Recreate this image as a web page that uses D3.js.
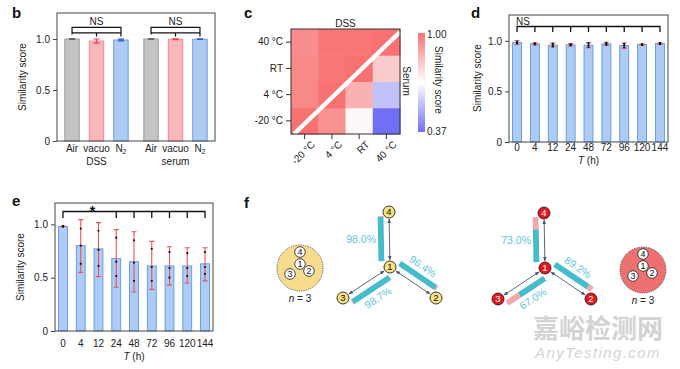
<!DOCTYPE html>
<html><head><meta charset="utf-8">
<script src="https://cdn.jsdelivr.net/npm/d3@7"></script>
<style>body{margin:0;background:#fff}svg{display:block;font-family:"Liberation Sans",Arial,Helvetica,sans-serif}</style>
</head><body><svg id="chart" width="680" height="369"></svg>
<script>
// ---------------- DATA ----------------
const bCategories = ["Air", "vacuo", "N2"];
const bGroups = ["DSS", "serum"];
const bDSSValues = [1.0, 0.98, 0.99];
const bDSSErrors = [0.003, 0.02, 0.008];
const bSerumValues = [1.0, 0.998, 0.998];
const bSerumErrors = [0.003, 0.004, 0.003];
const yTicks = [0, 0.5, 1.0];

const cTemps = ["-20 °C", "4 °C", "RT", "40 °C"];
const cDSS = [
  [1.00, 0.95, 0.95, 0.94],
  [0.95, 1.00, 0.99, 0.99],
  [0.95, 0.99, 1.00, 0.99],
  [0.94, 0.99, 0.99, 1.00]
];
const cSerum = [
  [1.00, 0.93, 0.70, 0.37],
  [0.93, 1.00, 0.86, 0.55],
  [0.70, 0.86, 1.00, 0.80],
  [0.37, 0.55, 0.80, 1.00]
];
const cColorDomain = [0.37, 1.00];

const timeLabels = ["0", "4", "12", "24", "48", "72", "96", "120", "144"];
const dValues = [0.983, 0.970, 0.957, 0.960, 0.957, 0.970, 0.953, 0.963, 0.973];
const dErrors = [0.02, 0.01, 0.02, 0.012, 0.025, 0.015, 0.025, 0.006, 0.008];
const dPoints = [[0.99, 0.98, 0.975], [0.975, 0.97, 0.965], [0.97, 0.955, 0.945], [0.965, 0.96, 0.955],
  [0.975, 0.955, 0.94], [0.98, 0.97, 0.96], [0.97, 0.955, 0.935], [0.965, 0.963, 0.96], [0.978, 0.973, 0.968]];

const eValues = [0.98, 0.80, 0.77, 0.68, 0.65, 0.61, 0.61, 0.61, 0.63];
const eErrLow = [0.977, 0.55, 0.51, 0.41, 0.365, 0.39, 0.43, 0.45, 0.47];
const eErrHigh = [0.983, 1.044, 1.016, 0.95, 0.93, 0.84, 0.79, 0.78, 0.78];
const ePoints = [[0.98, 0.98, 0.98], [0.96, 0.80, 0.63], [0.94, 0.76, 0.61], [0.875, 0.65, 0.515],
  [0.85, 0.64, 0.47], [0.77, 0.60, 0.47], [0.74, 0.59, 0.50], [0.73, 0.59, 0.515], [0.74, 0.60, 0.535]];
const eBracketTimes = ["0", "24", "48", "72", "96", "120", "144"];

const fEdgeTargets = ["4", "2", "3"];
const fLeftPercents = [98.0, 96.4, 98.7];
const fRightPercents = [73.0, 89.2, 67.0];

// ---------------- DRAW ----------------
const svg = d3.select("#chart");
const FS = 10;

function panelLabel(t, x, y) {
  svg.append("text").attr("x", x).attr("y", y).attr("font-weight", "bold")
    .attr("font-size", 15).attr("fill", "#111").text(t);
}
function frame(x0, x1, y0, y1, col) {
  svg.append("rect").attr("x", x0).attr("y", y0).attr("width", x1 - x0).attr("height", y1 - y0)
    .attr("fill", "none").attr("stroke", col || "#444").attr("stroke-width", 1);
}
function yAxis(y, x0) {
  const ax = d3.axisLeft(y).tickValues(yTicks).tickSize(4).tickFormat(d => d === 0 ? "0" : d3.format(".1f")(d));
  const a = svg.append("g").attr("transform", `translate(${x0},0)`).call(ax);
  a.select(".domain").remove();
  a.selectAll("line").attr("stroke", "#444");
  a.selectAll("text").attr("font-size", FS).attr("fill", "#222").attr("font-family", "Liberation Sans, Arial");
}
function yTitle(x, y) {
  svg.append("text").attr("transform", `translate(${x},${y}) rotate(-90)`).attr("text-anchor", "middle")
    .attr("font-size", FS).attr("fill", "#222").text("Similarity score");
}

// ===== Panel b =====
panelLabel("b", 12, 18);
{
  const x0 = 57, x1 = 215, y0 = 13, y1 = 141;
  const y = d3.scaleLinear().domain([0, 1.255]).range([y1, y0]);
  const xg = d3.scaleBand().domain(bGroups).range([x0, x1]).padding(0);
  const xc = d3.scaleBand().domain(bCategories).range([0, xg.bandwidth()]).paddingInner(0.41).paddingOuter(0.32);
  const fills = { Air: "#c4c4c4", vacuo: "#f8b8ba", N2: "#aecbf2" };
  const strokes = { Air: "#9b9b9b", vacuo: "#ec8a8e", N2: "#6d9fe3" };
  const errCol = { Air: "#666", vacuo: "#e8434b", N2: "#2f5fb5" };
  const series = { DSS: [bDSSValues, bDSSErrors], serum: [bSerumValues, bSerumErrors] };
  bGroups.forEach(g => {
    bCategories.forEach((c, i) => {
      const v = series[g][0][i], e = series[g][1][i];
      const bx = xg(g) + xc(c), bw = xc.bandwidth();
      svg.append("rect").attr("x", bx).attr("y", y(v)).attr("width", bw).attr("height", y(0) - y(v))
        .attr("fill", fills[c]).attr("stroke", strokes[c]).attr("stroke-width", 1);
      const cx = bx + bw / 2;
      svg.append("path").attr("d", `M${cx - 3},${y(v + e)}H${cx + 3}M${cx},${y(v + e)}V${y(v - e)}M${cx - 3},${y(v - e)}H${cx + 3}`)
        .attr("stroke", errCol[c]).attr("stroke-width", 1.2).attr("fill", "none");
    });
    const cA = xg(g) + xc("Air") + xc.bandwidth() / 2;
    const cV = xg(g) + xc("vacuo") + xc.bandwidth() / 2;
    const cN = xg(g) + xc("N2") + xc.bandwidth() / 2;
    svg.append("path").attr("d", `M${cA},${y(1.045)}V${y(1.115)}H${cN}V${y(1.045)}M${cV},${y(1.025)}V${y(1.06)}H${cN}V${y(1.025)}M${cA},${y(1.06)}H${cV}`)
      .attr("stroke", "#111").attr("stroke-width", 1.2).attr("fill", "none");
    svg.append("text").attr("x", cV).attr("y", 25).attr("text-anchor", "middle").attr("font-size", FS).attr("fill", "#222").text("NS");
    bCategories.forEach(c => {
      const cx = xg(g) + xc(c) + xc.bandwidth() / 2;
      const t = svg.append("text").attr("x", cx).attr("y", 151.5).attr("text-anchor", "middle").attr("font-size", FS).attr("fill", "#222");
      if (c === "N2") { t.append("tspan").text("N"); t.append("tspan").attr("font-size", 7).attr("dy", 2.5).text("2"); }
      else t.text(c);
    });
    svg.append("text").attr("x", cV).attr("y", 165).attr("text-anchor", "middle").attr("font-size", FS).attr("fill", "#222").text(g);
  });
  frame(x0, x1, y0, y1);
  yAxis(y, x0);
  yTitle(26, 77);
}

// ===== Panel c =====
panelLabel("c", 244, 18);
{
  const x0 = 291, x1 = 400, y0 = 29, y1 = 134;
  const x = d3.scaleBand().domain(cTemps).range([x0, x1]);
  const y = d3.scaleBand().domain(cTemps.slice().reverse()).range([y0, y1]);
  const mid = (cColorDomain[0] + cColorDomain[1]) / 2;
  const color = d3.scaleLinear().domain([cColorDomain[0], mid, cColorDomain[1]]).range(["#7070f4", "#ffffff", "#f87272"]);
  cTemps.forEach((tx, i) => cTemps.forEach((ty, j) => {
    const v = i > j ? cSerum[j][i] : cDSS[j][i];
    svg.append("rect").attr("x", x(tx)).attr("y", y(ty)).attr("width", x.bandwidth() + 0.5).attr("height", y.bandwidth() + 0.5)
      .attr("fill", color(v));
  }));
  svg.append("line").attr("x1", x0 + 3).attr("y1", y1).attr("x2", x1).attr("y2", y0 + 3)
    .attr("stroke", "#fff").attr("stroke-width", 4.5);
  frame(x0, x1, y0, y1, "#333");
  const ay = svg.append("g").attr("transform", `translate(${x0},0)`).call(d3.axisLeft(y).tickSize(5));
  ay.select(".domain").remove();
  ay.selectAll("line").attr("stroke", "#333");
  ay.selectAll("text").attr("font-size", FS).attr("fill", "#222").attr("font-family", "Liberation Sans, Arial");
  const ax = svg.append("g").attr("transform", `translate(0,${y1})`).call(d3.axisBottom(x).tickSize(5));
  ax.select(".domain").remove();
  ax.selectAll("line").attr("stroke", "#333");
  ax.selectAll("text").attr("font-size", FS).attr("fill", "#222").attr("font-family", "Liberation Sans, Arial")
    .attr("text-anchor", "end").attr("transform", "translate(4,4) rotate(-45)").attr("dy", "0.7em").attr("y", 3).attr("x", 0);
  svg.append("text").attr("x", (x0 + x1) / 2).attr("y", 27).attr("text-anchor", "middle").attr("font-size", FS).attr("fill", "#222").text("DSS");
  svg.append("text").attr("transform", `translate(403,81) rotate(90)`).attr("text-anchor", "middle").attr("font-size", FS).attr("fill", "#222").text("Serum");
  const defs = svg.append("defs");
  const grad = defs.append("linearGradient").attr("id", "cbar").attr("x1", 0).attr("x2", 0).attr("y1", 1).attr("y2", 0);
  d3.range(0, 1.0001, 0.1).forEach(t => {
    grad.append("stop").attr("offset", t).attr("stop-color", color(cColorDomain[0] + t * (cColorDomain[1] - cColorDomain[0])));
  });
  svg.append("rect").attr("x", 418).attr("y", 33).attr("width", 7).attr("height", 99).attr("fill", "url(#cbar)");
  svg.append("text").attr("x", 427).attr("y", 38).attr("font-size", FS).attr("fill", "#222").text(d3.format(".2f")(cColorDomain[1]));
  svg.append("text").attr("x", 427).attr("y", 135).attr("font-size", FS).attr("fill", "#222").text(d3.format(".2f")(cColorDomain[0]));
  svg.append("text").attr("transform", `translate(435,80) rotate(90)`).attr("text-anchor", "middle").attr("font-size", FS).attr("fill", "#222").text("Similarity score");
}

function timeBars(x0, x1, y0, y1, ymax, values, lo, hi, pts, xlabY, titleY) {
  const y = d3.scaleLinear().domain([0, ymax]).range([y1, y0]);
  const x = d3.scaleBand().domain(timeLabels).range([x0, x1]).paddingInner(0.5).paddingOuter(0.2);
  timeLabels.forEach((t, i) => {
    const v = values[i];
    svg.append("rect").attr("x", x(t)).attr("y", y(v)).attr("width", x.bandwidth()).attr("height", y(0) - y(v))
      .attr("fill", "#adcbf3").attr("stroke", "#5e97e2").attr("stroke-width", 0.9);
  });
  timeLabels.forEach((t, i) => {
    const cx = x(t) + x.bandwidth() / 2;
    svg.append("path").attr("d", `M${cx - 2.5},${y(hi[i])}H${cx + 2.5}M${cx},${y(hi[i])}V${y(lo[i])}M${cx - 2.5},${y(lo[i])}H${cx + 2.5}`)
      .attr("stroke", "#e8545b").attr("stroke-width", 1.1).attr("fill", "none");
    pts[i].forEach(p => svg.append("circle").attr("cx", cx).attr("cy", y(p)).attr("r", 1.1).attr("fill", "#111"));
  });
  frame(x0, x1, y0, y1);
  yAxis(y, x0);
  timeLabels.forEach(t => {
    svg.append("text").attr("x", x(t) + x.bandwidth() / 2).attr("y", xlabY).attr("text-anchor", "middle")
      .attr("font-size", FS).attr("fill", "#222").text(t);
  });
  const tt = svg.append("text").attr("x", (x0 + x1) / 2).attr("y", titleY).attr("text-anchor", "middle").attr("font-size", FS).attr("fill", "#222");
  tt.append("tspan").attr("font-style", "italic").text("T");
  tt.append("tspan").text(" (h)");
  return { x, y };
}

// ===== Panel d =====
panelLabel("d", 471, 18);
{
  const { x } = timeBars(509, 668, 15, 142, 1.255, dValues,
    dValues.map((v, i) => v - dErrors[i]), dValues.map((v, i) => v + dErrors[i]), dPoints, 151, 164);
  const cs = timeLabels.map(t => x(t) + x.bandwidth() / 2);
  let d = `M${cs[0]},32V26.5H${cs[cs.length - 1]}V32`;
  cs.slice(1, -1).forEach(c => d += `M${c},26.5V32`);
  svg.append("path").attr("d", d).attr("stroke", "#111").attr("stroke-width", 1.3).attr("fill", "none");
  svg.append("text").attr("x", cs[0] - 1).attr("y", 24.5).attr("font-size", FS).attr("fill", "#222").text("NS");
  yTitle(481, 78);
}

// ===== Panel e =====
panelLabel("e", 12, 206);
{
  const { x } = timeBars(55, 213, 203, 331, 1.2, eValues, eErrLow, eErrHigh, ePoints, 347, 360);
  const cs = eBracketTimes.map(t => x(t) + x.bandwidth() / 2);
  let d = `M${cs[0]},218V211.5H${cs[cs.length - 1]}V218`;
  cs.slice(1, -1).forEach(c => d += `M${c},211.5V218`);
  svg.append("path").attr("d", d).attr("stroke", "#111").attr("stroke-width", 1.3).attr("fill", "none");
  svg.append("text").attr("x", 92.5).attr("y", 215.5).attr("text-anchor", "middle").attr("font-size", 14)
    .attr("font-weight", "bold").attr("fill", "#111").text("*");
  yTitle(24, 267);
}

// ===== Panel f =====
panelLabel("f", 244, 208);
{
  const defs = svg.append("defs");
  defs.append("marker").attr("id", "arr").attr("viewBox", "0 0 6 6").attr("refX", 5.5).attr("refY", 3)
    .attr("markerWidth", 5).attr("markerHeight", 5).attr("orient", "auto-start-reverse")
    .append("path").attr("d", "M0,0.6L6,3L0,5.4z").attr("fill", "#4b556e");

  function cluster(cx, cy, fill) {
    svg.append("circle").attr("cx", cx).attr("cy", cy).attr("r", 23).attr("fill", fill)
      .attr("stroke", "#555").attr("stroke-width", 1).attr("stroke-dasharray", "1.2,1.2");
    const inner = [["4", 0, -16], ["1", 0, -4], ["3", -10, 6], ["2", 9, 3]];
    inner.forEach(([n, dx, dy]) => {
      svg.append("circle").attr("cx", cx + dx).attr("cy", cy + dy).attr("r", 5.3).attr("fill", "#fff").attr("stroke", "#333").attr("stroke-width", 0.9);
      svg.append("text").attr("x", cx + dx).attr("y", cy + dy + 3.3).attr("text-anchor", "middle").attr("font-size", 9).attr("fill", "#111").text(n);
    });
    const t = svg.append("text").attr("x", cx).attr("y", cy + 34).attr("text-anchor", "middle").attr("font-size", FS).attr("fill", "#222");
    t.append("tspan").attr("font-style", "italic").text("n");
    t.append("tspan").text(" = 3");
  }

  function tree(cx, cy, pcts, nodeFill, nodeText) {
    const pos = { "1": [cx, cy], "4": [cx - 1, cy - 55], "2": [cx + 46, cy + 31], "3": [cx - 47, cy + 31] };
    const rN = 6, L = 45, d0 = 6, off = 8.5, bw = 5.8;
    fEdgeTargets.forEach((tgt, k) => {
      const [x1, y1] = pos["1"], [x2, y2] = pos[tgt];
      const len = Math.hypot(x2 - x1, y2 - y1);
      const ux = (x2 - x1) / len, uy = (y2 - y1) / len;
      const nx = uy, ny = -ux;
      svg.append("line").attr("x1", x1 + ux * (rN + 1)).attr("y1", y1 + uy * (rN + 1))
        .attr("x2", x2 - ux * (rN + 1)).attr("y2", y2 - uy * (rN + 1))
        .attr("stroke", "#4b556e").attr("stroke-width", 0.9)
        .attr("marker-start", "url(#arr)").attr("marker-end", "url(#arr)");
      const p = pcts[k] / 100;
      const bx = x1 + nx * off, by = y1 + ny * off;
      const ang = Math.atan2(uy, ux) * 180 / Math.PI;
      const g = svg.append("g").attr("transform", `translate(${bx},${by}) rotate(${ang})`);
      g.append("rect").attr("x", d0).attr("y", -bw / 2).attr("width", L * p).attr("height", bw).attr("fill", "#44bccb");
      g.append("rect").attr("x", d0 + L * p).attr("y", -bw / 2).attr("width", L * (1 - p)).attr("height", bw).attr("fill", "#f4a7ab");
      const label = d3.format(".1f")(pcts[k]) + "%";
      if (tgt === "4") {
        svg.append("text").attr("x", x1 - 14).attr("y", y1 - 24).attr("text-anchor", "end")
          .attr("font-size", 10.5).attr("fill", "#5fc6dd").text(label);
      } else {
        const lx = x1 + ux * 27 + nx * 19, ly = y1 + uy * 27 + ny * 19;
        let a = ang; if (a > 90) a -= 180; if (a < -90) a += 180;
        svg.append("text").attr("transform", `translate(${lx},${ly}) rotate(${a})`).attr("text-anchor", "middle")
          .attr("dy", "0.35em").attr("font-size", 10.5).attr("fill", "#5fc6dd").text(label);
      }
    });
    Object.entries(pos).forEach(([n, [x, y]]) => {
      svg.append("circle").attr("cx", x).attr("cy", y).attr("r", rN).attr("fill", nodeFill).attr("stroke", "#222").attr("stroke-width", 0.9);
      svg.append("text").attr("x", x).attr("y", y + 3.4).attr("text-anchor", "middle").attr("font-size", 9.5).attr("fill", nodeText).text(n);
    });
  }

  cluster(300, 268, "#f8dc8e");
  tree(390, 267, fLeftPercents, "#f6e17e", "#111");
  tree(545, 268, fRightPercents, "#e8161c", "#fff");
  cluster(643, 270, "#ef7070");
}

// watermark
svg.append("text").attr("x", 598).attr("y", 338).attr("text-anchor", "middle").attr("font-size", 26)
  .attr("font-family", "Noto Sans CJK SC").attr("font-weight", "bold").attr("fill", "#cfcfcf").attr("opacity", 0.9).text("嘉峪检测网");
svg.append("text").attr("x", 598).attr("y", 358).attr("text-anchor", "middle").attr("font-size", 15)
  .attr("font-style", "italic").attr("letter-spacing", 1.4).attr("fill", "#cfcfcf").attr("opacity", 0.9).text("AnyTesting.com");
</script></body></html>
